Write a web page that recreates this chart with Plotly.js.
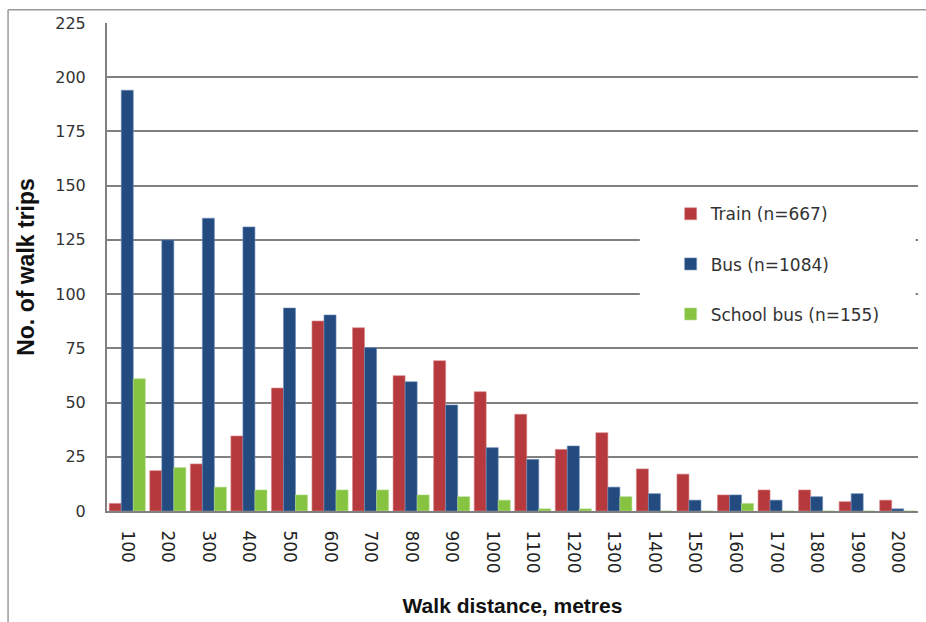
<!DOCTYPE html>
<html>
<head>
<meta charset="utf-8">
<script src="https://cdn.plot.ly/plotly-3.0.1.min.js"></script>
<style>html,body{margin:0;padding:0;background:#fff;}#chart{width:926px;height:622px;}</style>
</head>
<body>
<div id="chart"></div>
<script>
const categories = ["100","200","300","400","500","600","700","800","900","1000","1100","1200","1300","1400","1500","1600","1700","1800","1900","2000"];
const trainValues = [3.5,18.6,21.7,34.6,56.7,87.6,84.5,62.4,69.3,55,44.6,28.4,36.1,19.4,17,7.4,9.7,9.7,4.3,5];
const busValues = [194,125,135,131,93.6,90.4,75.3,59.6,48.9,29.2,23.8,30,11,8,5,7.4,5,6.6,8,1];
const schoolBusValues = [61,20,11,9.7,7.4,9.7,9.7,7.4,6.6,5,1,1,6.6,0,0,3.5,0,0,0,0];
const seriesNames = ["Train (n=667)", "Bus (n=1084)", "School bus (n=155)"];
const yTicks = [0,25,50,75,100,125,150,175,200,225];

const colors = ["#B5393D", "#234B7F", "#86C341"];
const outline = ["#D9888A", "#6E8DB8", "#B5DB8E"];
const vals = [trainValues, busValues, schoolBusValues];

const traces = vals.map((v, i) => ({
  type: "bar",
  x: categories,
  y: v,
  name: seriesNames[i],
  legendgroup: "g" + i,
  marker: {color: colors[i], line: {color: outline[i], width: 0.6}},
  hoverinfo: "x+y+name"
}));

const layout = {
  width: 926,
  height: 622,
  margin: {l: 107, r: 8, t: 23, b: 111},
  paper_bgcolor: "#ffffff",
  plot_bgcolor: "#ffffff",
  barmode: "group",
  bargap: 0.11,
  bargroupgap: 0,
  showlegend: true,
  legend: {
    x: 0.695, y: 0.645, xanchor: "left", yanchor: "top",
    bgcolor: "rgba(0,0,0,0)",
    font: {family: "DejaVu Sans", size: 17, color: "#333333"},
    traceorder: "grouped",
    tracegroupgap: 25,
    itemwidth: 30
  },
  xaxis: {
    type: "category",
    tickvals: categories,
    ticktext: categories,
    tickangle: 90,
    tickfont: {family: "DejaVu Sans", size: 17, color: "#222222"},
    ticks: "",
    ticklabelstandoff: 14,
    showline: true,
    linecolor: "#808080",
    linewidth: 2,
    showgrid: false,
    title: {text: "<b>Walk distance, metres</b>", font: {family: "Liberation Sans", size: 21, color: "#111111"}, standoff: 26}
  },
  yaxis: {
    range: [0, 225],
    tickvals: yTicks,
    ticktext: yTicks.map(String),
    tickfont: {family: "DejaVu Sans", size: 16, color: "#333333"},
    ticks: "",
    ticklabelstandoff: 16,
    showline: true,
    linecolor: "#808080",
    linewidth: 2,
    showgrid: true,
    gridcolor: "#808080",
    gridwidth: 2,
    zeroline: false,
    title: {text: "<b>No. of walk trips</b>", font: {family: "Liberation Sans", size: 23, color: "#111111"}, standoff: 14}
  },
  shapes: [
    {type: "rect", xref: "paper", yref: "paper", x0: 0.657, x1: 0.997, y0: 0.36, y1: 0.648, fillcolor: "#ffffff", line: {width: 0}, layer: "above"},
    {type: "line", xref: "paper", yref: "paper", x0: -0.122, x1: 1.01, y0: 1.027, y1: 1.027, line: {color: "#9a9a9a", width: 1.5}},
    {type: "line", xref: "paper", yref: "paper", x0: -0.122, x1: -0.122, y0: 1.027, y1: -0.24, line: {color: "#9a9a9a", width: 1.5}}
  ]
};

Plotly.newPlot("chart", traces, layout, {displayModeBar: false, staticPlot: true});
</script>
</body>
</html>
